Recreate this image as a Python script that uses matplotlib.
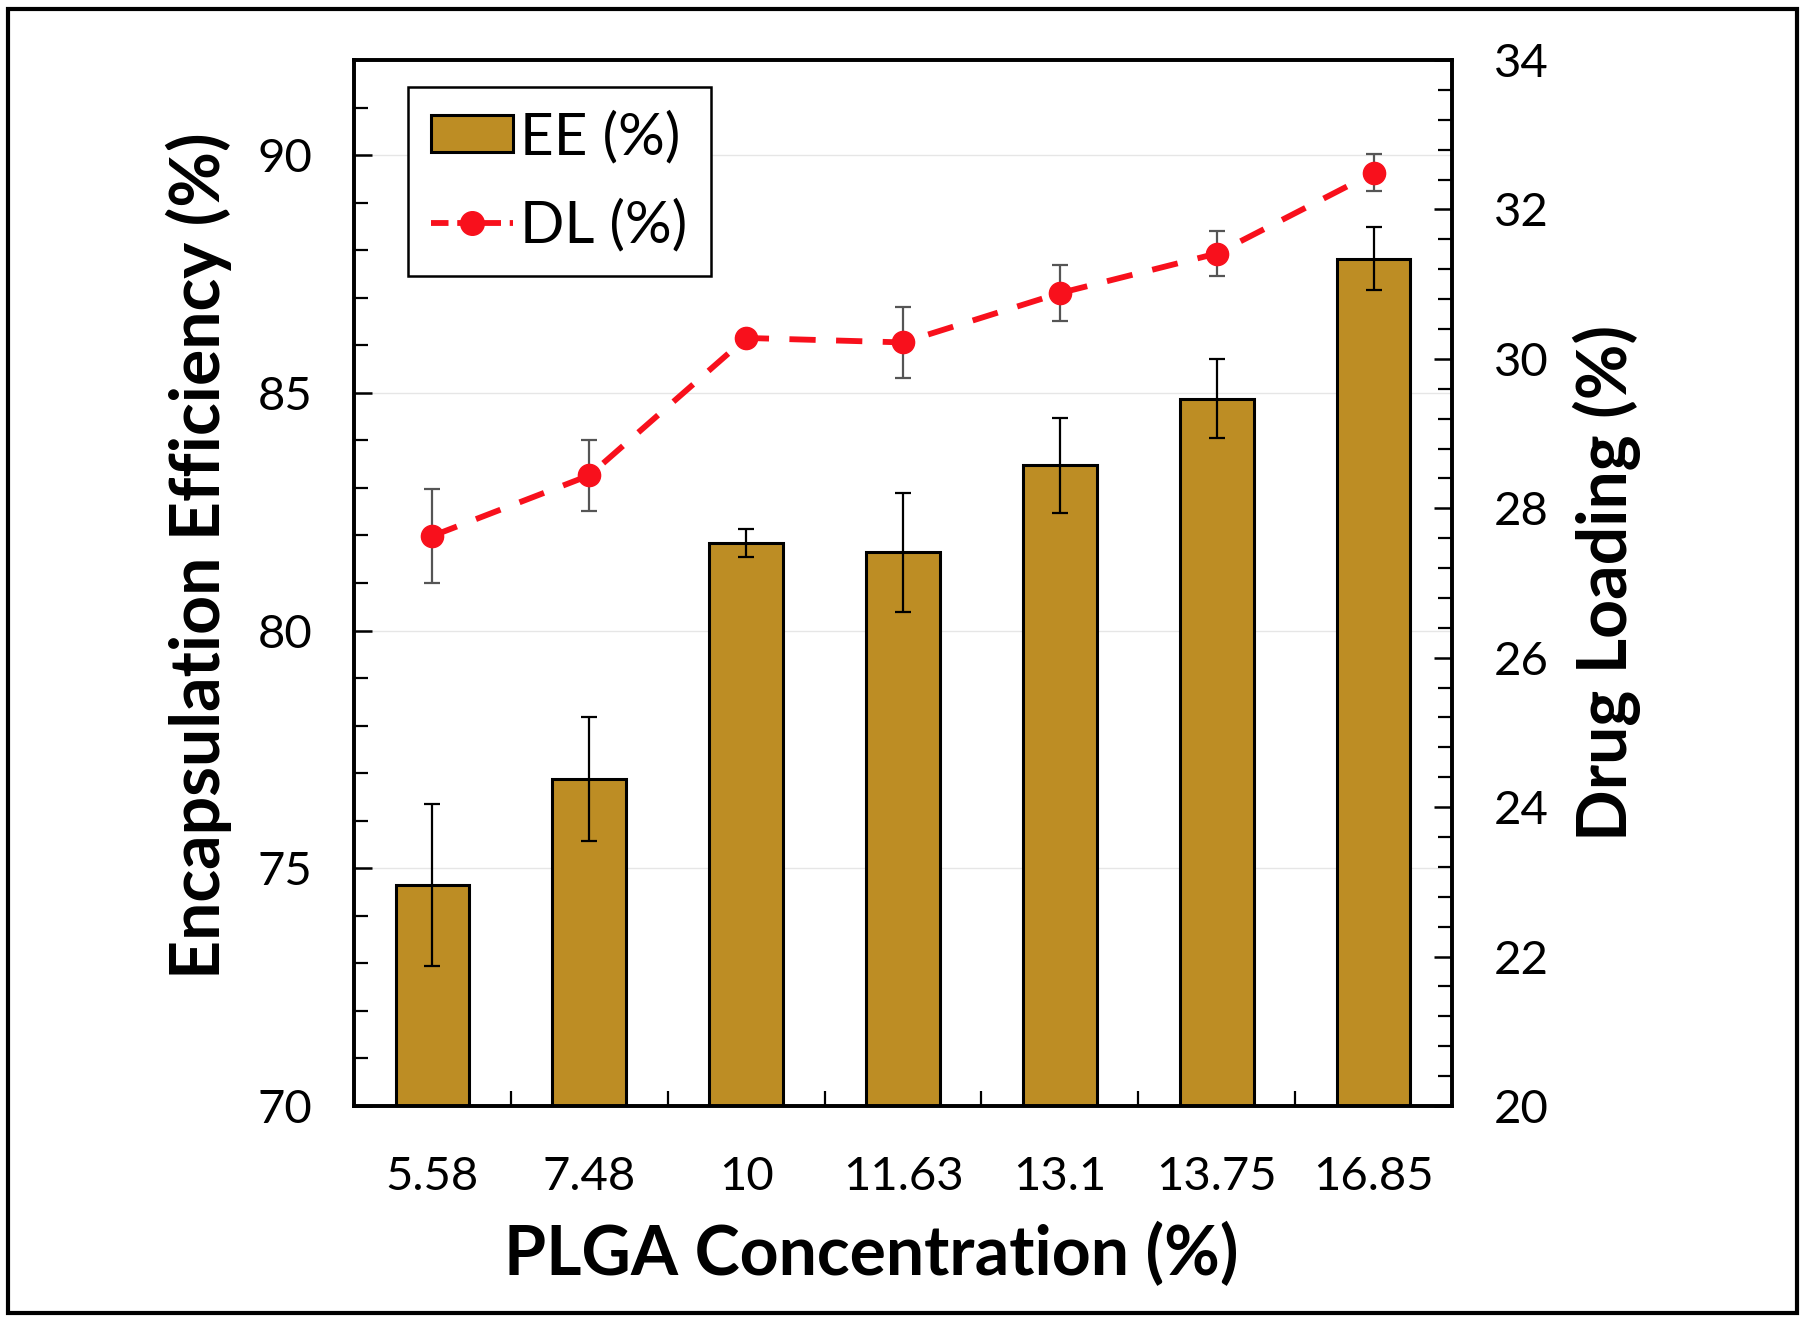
import matplotlib
matplotlib.use("Agg")
import matplotlib.pyplot as plt
from matplotlib.patches import Rectangle, Patch
from matplotlib.lines import Line2D
from matplotlib.ticker import MultipleLocator, FixedLocator
import numpy as np

plt.rcParams['font.family'] = ['Lato', 'DejaVu Sans']

categories = ["5.58", "7.48", "10", "11.63", "13.1", "13.75", "16.85"]
ee_values = [74.65, 76.88, 81.84, 81.65, 83.48, 84.88, 87.82]
ee_errors = [1.70, 1.30, 0.30, 1.25, 1.00, 0.83, 0.66]
dl_values = [27.63, 28.44, 30.28, 30.22, 30.88, 31.41, 32.49]
dl_errors = [0.63, 0.47, 0.05, 0.47, 0.37, 0.30, 0.25]

bar_color = "#BD8D24"
line_color = "#F8101C"

fig = plt.figure(figsize=(18.1, 13.22), dpi=100)
ax = fig.add_axes([354/1810, 1 - 1106/1322, (1452-354)/1810, (1106-60)/1322])
ax2 = ax.twinx()

x = np.arange(len(categories))
ax.bar(x, ee_values, width=0.47, color=bar_color, edgecolor="black", linewidth=2.2,
       zorder=2)
ax.errorbar(x, ee_values, yerr=ee_errors, fmt="none", ecolor="black", elinewidth=1.6,
            capsize=6, capthick=1.6, zorder=3)

ax.set_xlim(-0.5, len(categories) - 0.5)
ax.set_ylim(70, 92)
ax2.set_ylim(20, 34)

ax.yaxis.set_major_locator(FixedLocator([70, 75, 80, 85, 90]))
ax.yaxis.set_minor_locator(MultipleLocator(1))
ax2.yaxis.set_major_locator(MultipleLocator(2))
ax2.yaxis.set_minor_locator(MultipleLocator(0.4))
ax.set_xticks(x)
ax.set_xticklabels(categories)
ax.xaxis.set_minor_locator(FixedLocator(np.arange(0.5, len(categories) - 1, 1.0)))

for a in (ax, ax2):
    for s in a.spines.values():
        s.set_linewidth(2.6)
        s.set_color("black")

ax.tick_params(axis="y", which="major", direction="in", length=13, width=1.8,
               labelsize=34, pad=30)
ax.tick_params(axis="y", which="minor", direction="in", length=10, width=1.6)
ax.tick_params(axis="x", which="major", length=0, labelsize=34, pad=36)
ax.tick_params(axis="x", which="minor", direction="in", length=11, width=1.6)
ax2.tick_params(axis="y", which="major", direction="in", length=13, width=1.8,
                labelsize=34, pad=30)
ax2.tick_params(axis="y", which="minor", direction="in", length=10, width=1.6)

ax.yaxis.grid(True, which="major", color="#E6E6E6", linewidth=1.0, zorder=0)
ax.set_axisbelow(True)

ax2.errorbar(x, dl_values, yerr=dl_errors, fmt="none", ecolor="#555555", elinewidth=1.6,
             capsize=6, capthick=1.6, zorder=3)
ax2.plot(x, dl_values, color=line_color, linewidth=4.2, dashes=(4.5, 3.5),
         marker="o", markersize=16, zorder=4)

ax.set_xlabel("PLGA Concentration (%)", fontsize=49, fontweight="bold")
ax.xaxis.set_label_coords(0.471, -0.111)
ax.set_ylabel("Encapsulation Efficiency (%)", fontsize=49, fontweight="bold")
ax.yaxis.set_label_coords(-0.111, 0.526)
ax2.set_ylabel("Drug Loading (%)", fontsize=49, fontweight="bold", labelpad=17)

handles = [Patch(facecolor=bar_color, edgecolor="black", linewidth=2.2),
           Line2D([], [], color=line_color, linewidth=4.2, dashes=(3.0, 1.5), marker="o",
                  markersize=17)]
leg = ax2.legend(handles, ["EE (%)", "DL (%)"], loc="upper left",
                 bbox_to_anchor=((408-354)/1098, (1106-87)/1046), borderaxespad=0,
                 fontsize=42, fancybox=False, edgecolor="black", framealpha=1,
                 handlelength=1.4, handleheight=0.6, borderpad=0.4, labelspacing=0.6,
                 handletextpad=0.12)
leg.get_frame().set_linewidth(1.8)

fig.patches.append(Rectangle((8/1810, 9/1322), (1797-8)/1810, (1313-9)/1322,
                             transform=fig.transFigure, fill=False, edgecolor="black",
                             linewidth=3, zorder=10))

fig.savefig("out.png", dpi=100)
